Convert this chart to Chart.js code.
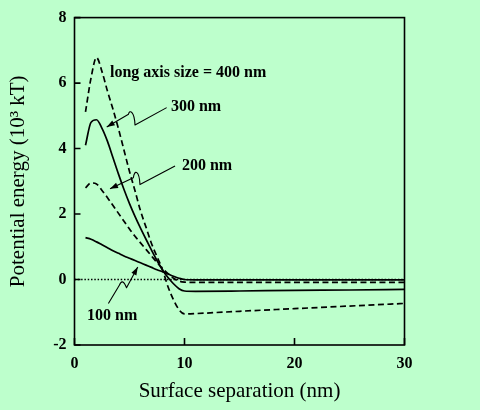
<!DOCTYPE html>
<html><head><meta charset="utf-8">
<script src="https://cdn.jsdelivr.net/npm/chart.js@4/dist/chart.umd.min.js"></script>
<style>html,body{margin:0;padding:0;background:#BDFFCC;}#wrap{width:480px;height:410px;}</style>
</head><body><div id="wrap"><canvas id="c" width="480" height="410"></canvas></div>
<script>
// ---- data ----
const xs   = [1, 1.5, 2, 2.5, 3, 3.5, 4, 4.5, 5, 5.5, 6, 6.5, 7, 7.5, 8, 8.5, 9, 9.5, 10, 11, 15, 20, 25, 30];
const e400 = [5.12, 6.15, 6.78, 6.35, 5.75, 5.2, 4.6, 3.95, 3.3, 2.71, 2.1, 1.6, 1.1, 0.7, 0.3, -0.22, -0.62, -0.92, -1.05, -1.04, -0.97, -0.89, -0.81, -0.73];
const e300 = [4.1, 4.8, 4.88, 4.62, 4.22, 3.72, 3.22, 2.75, 2.32, 1.93, 1.57, 1.23, 0.9, 0.58, 0.29, 0.06, -0.13, -0.28, -0.35, -0.36, -0.35, -0.33, -0.32, -0.3];
const e200 = [2.8, 2.95, 2.92, 2.72, 2.5, 2.26, 2.02, 1.78, 1.54, 1.32, 1.12, 0.92, 0.72, 0.52, 0.34, 0.18, 0.04, -0.05, -0.08, -0.09, -0.09, -0.09, -0.09, -0.09];
const e100 = [1.28, 1.23, 1.15, 1.06, 0.97, 0.88, 0.8, 0.72, 0.65, 0.58, 0.51, 0.44, 0.37, 0.3, 0.24, 0.17, 0.1, 0.04, 0.0, -0.01, -0.01, -0.01, -0.01, -0.01];
const zeroX = [0, 30];
const zeroY = [0, 0];
const xTicks = [0, 10, 20, 30];
const yTicks = [-2, 0, 2, 4, 6, 8];
const seriesNames = ['long axis size = 400 nm', '300 nm', '200 nm', '100 nm'];

// ---- annotations (data coordinates) ----
const labelPos = [
  {x: 3.23, y: 6.3},
  {x: 8.77, y: 5.27},
  {x: 9.77, y: 3.47},
  {x: 1.14, y: -1.12}
];
const arrowPaths = [
  [['M', 8.38, 5.25], ['L', 5.5, 4.72], ['C', 5.45, 5.14, 5.0, 5.2, 4.91, 5.05], ['L', 2.93, 4.66]],
  [['M', 9.14, 3.47], ['L', 5.95, 2.9], ['C', 5.9, 3.32, 5.45, 3.38, 5.35, 3.11], ['L', 3.23, 2.77]],
  [['M', 3.08, -0.73], ['L', 4.09, -0.17], ['C', 4.23, -0.04, 4.45, -0.01, 4.73, -0.25], ['L', 5.75, 0.38]]
];

const pts = (ys) => xs.map((x, i) => ({x: x, y: ys[i]}));
const INK = '#000';
const BG = '#BDFFCC';

const deco = {
  id: 'deco',
  beforeDraw(chart) {
    const c = chart.ctx;
    c.save(); c.fillStyle = BG; c.fillRect(0, 0, chart.width, chart.height); c.restore();
  },
  afterDatasetsDraw(chart) {
    const c = chart.ctx, a = chart.chartArea, X = chart.scales.x, Y = chart.scales.y;
    const px = v => X.getPixelForValue(v), py = v => Y.getPixelForValue(v);
    c.save();
    c.strokeStyle = INK; c.fillStyle = INK; c.lineWidth = 1.6; c.setLineDash([]);
    c.strokeRect(a.left, a.top, a.right - a.left, a.bottom - a.top);
    c.beginPath();
    xTicks.forEach(v => { const p = px(v); c.moveTo(p, a.bottom); c.lineTo(p, a.bottom - 7); });
    yTicks.forEach(v => { const p = py(v); c.moveTo(a.left, p); c.lineTo(a.left + 6, p); });
    c.stroke();
    // labels
    c.font = 'bold 16px "Liberation Serif"';
    c.textAlign = 'left'; c.textBaseline = 'middle';
    seriesNames.forEach((t, i) => c.fillText(t, px(labelPos[i].x), py(labelPos[i].y)));
    // arrows
    c.lineWidth = 1.1; c.lineJoin = 'round';
    arrowPaths.forEach(path => {
      c.beginPath();
      let last = null, prev = null;
      path.forEach(s => {
        if (s[0] === 'M') { c.moveTo(px(s[1]), py(s[2])); prev = last; last = [px(s[1]), py(s[2])]; }
        else if (s[0] === 'L') { c.lineTo(px(s[1]), py(s[2])); prev = last; last = [px(s[1]), py(s[2])]; }
        else if (s[0] === 'C') { c.bezierCurveTo(px(s[1]), py(s[2]), px(s[3]), py(s[4]), px(s[5]), py(s[6])); prev = [px(s[3]), py(s[4])]; last = [px(s[5]), py(s[6])]; }
      });
      c.stroke();
      const ang = Math.atan2(last[1] - prev[1], last[0] - prev[0]);
      const L = 8, W = 2.8;
      c.beginPath();
      c.moveTo(last[0], last[1]);
      c.lineTo(last[0] - L * Math.cos(ang) + W * Math.sin(ang), last[1] - L * Math.sin(ang) - W * Math.cos(ang));
      c.lineTo(last[0] - L * Math.cos(ang) - W * Math.sin(ang), last[1] - L * Math.sin(ang) + W * Math.cos(ang));
      c.closePath(); c.fill();
    });
    c.restore();
  }
};

Chart.defaults.font.family = '"Liberation Serif"';
Chart.defaults.color = INK;

const lineDs = (ys, dash, label) => ({
  label: label, data: pts(ys), borderColor: INK, borderWidth: 1.7, borderDash: dash,
  pointRadius: 0, fill: false, cubicInterpolationMode: 'monotone'
});

new Chart(document.getElementById('c'), {
  type: 'line',
  data: {
    datasets: [
      {label: 'zero', data: zeroX.map((x, i) => ({x: x, y: zeroY[i]})), borderColor: INK, borderWidth: 1.5, borderDash: [1.5, 1.8], pointRadius: 0, fill: false},
      lineDs(e400, [6, 3.5], seriesNames[0]),
      lineDs(e300, [], seriesNames[1]),
      lineDs(e200, [6, 3.5], seriesNames[2]),
      lineDs(e100, [], seriesNames[3])
    ]
  },
  options: {
    responsive: false, animation: false, devicePixelRatio: 1,
    layout: {padding: {left: 0, right: 75.5, top: 16, bottom: 0}},
    plugins: {legend: {display: false}, tooltip: {enabled: false}},
    scales: {
      x: {
        type: 'linear', min: 0, max: 30,
        afterBuildTicks: s => { s.ticks = xTicks.map(v => ({value: v})); },
        afterFit: s => { s.height = 65; },
        grid: {display: false, drawTicks: false}, border: {display: false},
        ticks: {padding: 9, font: {size: 16, weight: 'bold'}, color: INK, maxRotation: 0, callback: v => String(v)},
        title: {display: true, text: 'Surface separation (nm)', font: {size: 21}, color: INK, padding: {top: 0, bottom: 6}}
      },
      y: {
        type: 'linear', min: -2, max: 8,
        afterBuildTicks: s => { s.ticks = yTicks.map(v => ({value: v})); },
        afterFit: s => { s.width = 74.5; },
        grid: {display: false, drawTicks: false}, border: {display: false},
        ticks: {padding: 8, font: {size: 16, weight: 'bold'}, color: INK, callback: v => String(v)},
        title: {display: true, text: 'Potential energy (10³ kT)', font: {size: 21}, color: INK, padding: {top: 6, bottom: 0}}
      }
    }
  },
  plugins: [deco]
});
</script></body></html>
